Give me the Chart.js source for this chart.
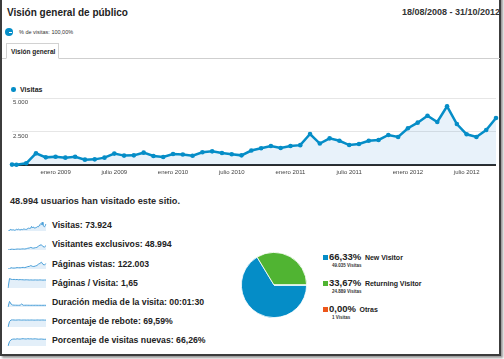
<!DOCTYPE html>
<html>
<head>
<meta charset="utf-8">
<script src="https://cdn.jsdelivr.net/npm/chart.js@4"></script>
<style>
    body { margin: 0; width: 504px; height: 359px; overflow: hidden; background: #fff; font-family: "Liberation Sans", Arial, sans-serif; color: #222; position: relative; }
    .abs { position: absolute; white-space: nowrap; line-height: 1; }
    #frame { position: absolute; left: 0; top: -4px; width: 501px; height: 360px; box-sizing: border-box; border: 2px solid #3c3c3c; box-shadow: 2px 2px 2px #9a9a9a; }
    #title { left: 7px; top: 8px; font-size: 10px; font-weight: bold; }
    #range { right: 4px; top: 8px; font-size: 9px; font-weight: bold; color: #333; }
    #seg-dot { left: 5px; top: 28px; width: 8px; height: 8px; border-radius: 50%; background: #058dc7; }
    #seg-dot::after { content: ""; position: absolute; left: 4px; top: 3.5px; width: 3px; height: 1px; background: #fff; }
    #seg-text { left: 19px; top: 30px; font-size: 5.5px; color: #333; }
    #tabline { position: absolute; left: 2px; top: 58px; width: 498px; height: 1px; background: #cfcfcf; }
    #tab { position: absolute; left: 6px; top: 43px; width: 53px; height: 16px; box-sizing: border-box; border: 1px solid #d2d2d2; border-bottom: 1px solid #fff; background: #fff; }
    #tab span { position: absolute; left: 4px; top: 5px; font-size: 6.5px; font-weight: bold; line-height: 1; white-space: nowrap; }
    #legend-dot { left: 11px; top: 87px; width: 4.5px; height: 4.5px; border-radius: 50%; background: #058dc7; }
    #legend-text { left: 20px; top: 85.5px; font-size: 7px; font-weight: bold; }
    #lineChart { position: absolute; left: 0; top: 88px; }
    #users { left: 10px; top: 197px; font-size: 9.2px; font-weight: bold; color: #2a2a2a; }
    .metric { left: 52px; font-size: 8.7px; font-weight: bold; }
    .spark { position: absolute; left: 7px; }
    #pieChart { position: absolute; left: 238px; top: 249px; }
    .sq { position: absolute; width: 5px; height: 5px; left: 323px; }
    .pct { left: 329px; font-size: 9.5px; font-weight: bold; }
    .pct small { font-size: 7px; margin-left: 1px; }
    .sub { left: 332px; font-size: 4.5px; font-weight: bold; color: #333; }
</style>
</head>
<body>
<div id="frame"></div>
<div class="abs" id="title">Visión general de público</div>
<div class="abs" id="range"></div>
<div class="abs" id="seg-dot"></div>
<div class="abs" id="seg-text">% de visitas: 100,00%</div>
<div id="tabline"></div>
<div id="tab"><span>Visión general</span></div>
<div class="abs" id="legend-dot"></div>
<div class="abs" id="legend-text">Visitas</div>
<canvas id="lineChart" width="504" height="92"></canvas>
<div class="abs" id="users">48.994 usuarios han visitado este sitio.</div>
<div id="metrics"></div>
<canvas id="pieChart" width="72" height="72"></canvas>
<div id="pieLegend"></div>

<script>
const rangeStart = '18/08/2008';
const rangeEnd = '31/10/2012';
const monthNames = ['enero', 'febrero', 'marzo', 'abril', 'mayo', 'junio', 'julio', 'agosto', 'septiembre', 'octubre', 'noviembre', 'diciembre'];

// Visitas por mes, ago 2008 - oct 2012
const visits = [30, 20, 130, 870, 570, 620, 550, 620, 400, 420, 550,
    850, 700, 720, 920, 670, 600, 820, 780, 690, 950,
    1020, 900, 800, 720, 1080, 1250, 1420, 1270, 1420, 1480,
    2310, 1600, 1990, 1810, 1490, 1570, 1810, 1870, 2240, 2090,
    2740, 3160, 3680, 3210, 4380, 3060, 2290, 2090, 2610, 3510];

const xTickLabels = ['enero 2009', 'julio 2009', 'enero 2010', 'julio 2010', 'enero 2011', 'julio 2011', 'enero 2012', 'julio 2012'];
const yTickValues = [5000, 2500];
const yTickLabels = ['5.000', '2.500'];

// Sparklines
const metricLabels = ['Visitas', 'Visitantes exclusivos', 'Páginas vistas', 'Páginas / Visita', 'Duración media de la visita', 'Porcentaje de rebote', 'Porcentaje de visitas nuevas'];
const metricValues = ['73.924', '48.994', '122.003', '1,65', '00:01:30', '69,59%', '66,26%'];
const sparkUniques = [20, 90, 400, 380, 290, 360, 480, 470, 420, 520, 560, 490, 620, 880, 1000, 1300, 1000, 950, 1150, 1300, 1900, 2400, 2600, 1700, 1500, 2200];
const sparkPageviews = [40, 200, 1300, 1000, 900, 1100, 1400, 1300, 1200, 1500, 1600, 1400, 1800, 2400, 2600, 3400, 2700, 2500, 3000, 3500, 4800, 5600, 6800, 4600, 4000, 5600];
const sparkPagesPerVisit = [0, 1.9, 1.75, 1.7, 1.72, 1.68, 1.7, 1.65, 1.68, 1.66, 1.64, 1.62, 1.65, 1.63, 1.6, 1.62, 1.6, 1.6, 1.62, 1.6, 1.6, 1.62, 1.6, 1.58, 1.6, 1.6];
const sparkDuration = [0, 280, 150, 100, 92, 90, 88, 86, 90, 150, 88, 86, 90, 88, 86, 85, 87, 85, 88, 86, 85, 86, 84, 85, 86, 85];
const sparkBounce = [0, 55, 70, 71, 70, 69, 70, 71, 70, 69, 70, 70, 69, 70, 69, 70, 70, 69, 69, 70, 70, 69, 70, 70, 69, 69];
const sparkNewVisits = [0, 45, 62, 68, 70, 68, 72, 70, 69, 72, 73, 71, 70, 73, 71, 72, 70, 71, 72, 70, 68, 69, 70, 68, 67, 68];

// Tipo de visitante
const pieLabels = ['New Visitor', 'Returning Visitor', 'Otras'];
const piePercents = ['66,33%', '33,67%', '0,00%'];
const pieVisits = [49035, 24889, 1];
const pieColors = ['#058dc7', '#50b432', '#ed561b'];

document.getElementById('range').textContent = rangeStart + ' - ' + rangeEnd;

function parseDate(s) {
    const [d, m, y] = s.split('/').map(Number);
    return { d, m, y };
}
const start = parseDate(rangeStart);

// month offset from the first month of the range
function monthIndex(label) {
    const [name, year] = label.split(' ');
    return (Number(year) - start.y) * 12 + monthNames.indexOf(name) - (start.m - 1);
}

const firstX = (start.d - 1) / new Date(start.y, start.m, 0).getDate();
const visitPoints = visits.map((v, i) => ({ x: i === 0 ? firstX : i, y: v }));

const axisText = {
    id: 'axisText',
    afterDraw(chart) {
        const { ctx, chartArea } = chart;
        const x = chart.scales.x;
        const y = chart.scales.y;
        ctx.save();
        ctx.fillStyle = '#444';
        ctx.font = '6px "Liberation Sans", Arial, sans-serif';
        ctx.textBaseline = 'middle';
        ctx.textAlign = 'left';
        yTickValues.forEach((v, i) => {
            ctx.fillText(yTickLabels[i], chartArea.left + 1, y.getPixelForValue(v) + 4.5);
        });
        ctx.textAlign = 'center';
        xTickLabels.forEach(lbl => {
            ctx.fillText(lbl, x.getPixelForValue(monthIndex(lbl)), chartArea.bottom + 7);
        });
        ctx.restore();
    }
};

new Chart(document.getElementById('lineChart'), {
    type: 'line',
    data: {
        datasets: [{
            label: 'Visitas',
            data: visitPoints,
            borderColor: '#058dc7',
            borderWidth: 2.5,
            backgroundColor: 'rgba(5, 110, 200, 0.09)',
            fill: 'origin',
            tension: 0,
            pointRadius: 2.3,
            pointBorderWidth: 0,
            pointBackgroundColor: '#058dc7',
            clip: false
        }]
    },
    options: {
        responsive: false,
        animation: false,
        events: [],
        layout: { padding: { left: 12, right: 8, top: 10, bottom: 15 } },
        plugins: { legend: { display: false }, tooltip: { enabled: false } },
        scales: {
            x: { type: 'linear', min: firstX, max: visits.length - 1, display: false },
            y: {
                min: 0,
                max: 5000,
                ticks: { display: false, stepSize: 2500 },
                border: { display: false },
                grid: {
                    drawTicks: false,
                    color: c => c.tick.value === 0 ? '#2b2b2b' : '#e6e6e6',
                    lineWidth: c => c.tick.value === 0 ? 2 : 1
                }
            }
        }
    },
    plugins: [axisText]
});

// metric rows with sparklines
const sparkSeries = [visits, sparkUniques, sparkPageviews, sparkPagesPerVisit, sparkDuration, sparkBounce, sparkNewVisits];
const metricsBox = document.getElementById('metrics');
metricLabels.forEach((label, i) => {
    const rowY = 225.7 + i * 19.17;
    const text = document.createElement('div');
    text.className = 'abs metric';
    text.style.top = (rowY - 4.5) + 'px';
    text.textContent = label + ': ' + metricValues[i];
    metricsBox.appendChild(text);

    const cv = document.createElement('canvas');
    cv.className = 'spark';
    cv.width = 40;
    cv.height = 12;
    cv.style.top = (rowY - 6) + 'px';
    metricsBox.appendChild(cv);

    const series = sparkSeries[i];
    new Chart(cv, {
        type: 'line',
        data: {
            labels: series.map((_, k) => k),
            datasets: [{
                data: series,
                borderColor: '#4a9fd8',
                borderWidth: 1,
                backgroundColor: '#e3eff9',
                fill: 'origin',
                pointRadius: 0,
                tension: 0
            }]
        },
        options: {
            responsive: false,
            animation: false,
            events: [],
            layout: { padding: 1 },
            plugins: { legend: { display: false }, tooltip: { enabled: false } },
            scales: { x: { display: false }, y: { display: false, min: 0 } }
        }
    });
});

new Chart(document.getElementById('pieChart'), {
    type: 'pie',
    data: {
        labels: pieLabels,
        datasets: [{
            data: pieVisits,
            backgroundColor: pieColors,
            borderColor: '#fff',
            borderWidth: 0.8
        }]
    },
    options: {
        responsive: false,
        animation: false,
        events: [],
        rotation: 90,
        layout: { padding: 3 },
        plugins: { legend: { display: false }, tooltip: { enabled: false } }
    }
});

const pieLegend = document.getElementById('pieLegend');
pieLabels.forEach((label, i) => {
    const rowY = 257.3 + i * 26;
    const sq = document.createElement('div');
    sq.className = 'sq';
    sq.style.top = (rowY - 2.5) + 'px';
    sq.style.background = pieColors[i];
    pieLegend.appendChild(sq);

    const pct = document.createElement('div');
    pct.className = 'abs pct';
    pct.style.top = (rowY - 5) + 'px';
    pct.innerHTML = piePercents[i] + ' <small>' + label + '</small>';
    pieLegend.appendChild(pct);

    const sub = document.createElement('div');
    sub.className = 'abs sub';
    sub.style.top = (rowY + 7) + 'px';
    sub.textContent = pieVisits[i].toString().replace(/\B(?=(\d{3})+(?!\d))/g, '.') + ' Visitas';
    pieLegend.appendChild(sub);
});
</script>
</body>
</html>
